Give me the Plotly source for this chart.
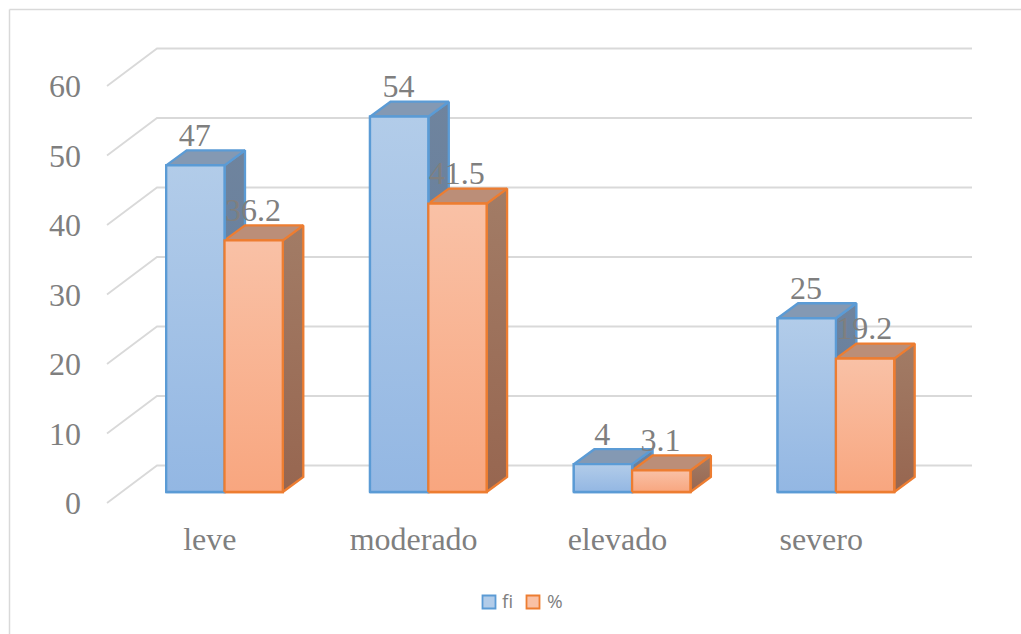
import plotly.graph_objects as go

categories = ["leve", "moderado", "elevado", "severo"]
fi_values = [47, 54, 4, 25]
pct_values = [36.2, 41.5, 3.1, 19.2]
y_ticks = [0, 10, 20, 30, 40, 50, 60]

W, H = 1021, 634
ML, MR, MT, MB = 82, 0, 20, 117
PX_PER_CAT = 203.8
PX_PER_VAL = 6.95
X0_PX = 224.5      # pixel of category 0 centre
Y0_PX = 503.0      # pixel of value 0 on the front plane of the axis

xr = [(ML - X0_PX) / PX_PER_CAT, (W - MR - X0_PX) / PX_PER_CAT]
yr = [(Y0_PX - (H - MB)) / PX_PER_VAL, (Y0_PX - MT) / PX_PER_VAL]

def dx(px): return px / PX_PER_CAT
def dy(px): return px / PX_PER_VAL

BAR_W = dx(58.3)
FRONT_DX, FRONT_DY = dx(14.7), dy(11)      # bar fronts relative to axis front
DEPTH_DX, DEPTH_DY = dx(20.5), dy(15)      # bar depth
WALL_DX, WALL_DY = dx(50), dy(37.5)        # back wall relative to axis front
TEXT = "#7f7f7f"
SERIF = "Liberation Serif"
FS = 32
EDGE = 2.3

series = [
    dict(name="fi", values=fi_values, line="#5b9bd5",
         front=("#b2cce9", "#93b7e3"), side=("#6f849e", "#5f7a9c"), top="#8499b3",
         off=-BAR_W),
    dict(name="%", values=pct_values, line="#ed7d31",
         front=("#f9c1a6", "#f8a67f"), side=("#a27c66", "#976650"), top="#bb8e78",
         off=0),
]

fig = go.Figure()

# gridlines on the floor + back wall (base subplot)
grid_x_front = (107 - X0_PX) / PX_PER_CAT
grid_x_back = (157 - X0_PX) / PX_PER_CAT
grid_x_end = (972 - X0_PX) / PX_PER_CAT
for v in y_ticks:
    fig.add_trace(go.Scatter(
        x=[grid_x_front, grid_x_back, grid_x_end],
        y=[v, v + WALL_DY, v + WALL_DY],
        mode="lines", line=dict(color="#d9d9d9", width=1.8),
        hoverinfo="skip", showlegend=False, xaxis="x", yaxis="y"))

# side and top faces (base subplot, below the fronts)
for s in series:
    for i, val in enumerate(s["values"]):
        left = i + s["off"]
        right = left + BAR_W
        bottom = FRONT_DY
        top = bottom + val
        fig.add_trace(go.Scatter(
            x=[right, right + DEPTH_DX, right + DEPTH_DX, right, right],
            y=[bottom, bottom + DEPTH_DY, top + DEPTH_DY, top, bottom],
            mode="lines", fill="toself",
            fillgradient=dict(type="vertical",
                              colorscale=[[0, s["side"][1]], [1, s["side"][0]]]),
            line=dict(color=s["line"], width=EDGE),
            hoverinfo="skip", showlegend=False, xaxis="x", yaxis="y"))
        fig.add_trace(go.Scatter(
            x=[left, left + DEPTH_DX, right + DEPTH_DX, right, left],
            y=[top, top + DEPTH_DY, top + DEPTH_DY, top, top],
            mode="lines", fill="toself", fillcolor=s["top"],
            line=dict(color=s["line"], width=EDGE),
            hoverinfo="skip", showlegend=False, xaxis="x", yaxis="y"))

# front faces (overlay subplot)
for s in series:
    fig.add_trace(go.Bar(
        x=list(range(len(categories))), y=s["values"], base=FRONT_DY,
        width=BAR_W, offset=s["off"], name=s["name"],
        marker=dict(color=s["front"][1], line=dict(color=s["line"], width=EDGE)),
        showlegend=False, xaxis="x2", yaxis="y2"))
for s in series:
    for i, val in enumerate(s["values"]):
        left = i + s["off"]
        right = left + BAR_W
        bottom = FRONT_DY
        top = bottom + val
        fig.add_trace(go.Scatter(
            x=[left, left, right, right, left],
            y=[bottom, top, top, bottom, bottom],
            mode="lines", fill="toself",
            fillgradient=dict(type="vertical",
                              colorscale=[[0, s["front"][1]], [1, s["front"][0]]]),
            line=dict(color=s["line"], width=EDGE),
            hoverinfo="skip", showlegend=False, xaxis="x2", yaxis="y2"))

# data labels on top of everything
for s in series:
    fig.add_trace(go.Scatter(
        x=[i + s["off"] + BAR_W / 2 - dx(0.7) for i in range(len(categories))],
        y=[v + FRONT_DY + dy(27.5) for v in s["values"]],
        text=[str(v) for v in s["values"]],
        mode="text", textposition="middle center",
        textfont=dict(family=SERIF, size=FS, color=TEXT),
        hoverinfo="skip", showlegend=False, xaxis="x2", yaxis="y2"))

plot_w = W - ML - MR
plot_h = H - MT - MB
def px_x(p): return (p - ML) / plot_w
def px_y(p): return (H - MB - p) / plot_h

shapes = [
    dict(type="line", xref="paper", yref="paper",
         x0=px_x(9.5), x1=px_x(9.5), y0=px_y(9.5), y1=px_y(H),
         line=dict(color="#d9d9d9", width=1.5)),
    dict(type="line", xref="paper", yref="paper",
         x0=px_x(9.5), x1=px_x(W), y0=px_y(9.5), y1=px_y(9.5),
         line=dict(color="#d9d9d9", width=1.5)),
]
annotations = []
for s, sw_left, txt_left in zip(series, (482.5, 526.5), (499.5, 544.5)):
    shapes.append(dict(type="rect", xref="paper", yref="paper",
                       x0=px_x(sw_left), x1=px_x(sw_left + 13),
                       y0=px_y(608.5), y1=px_y(595.5),
                       fillcolor=s["front"][0], line=dict(color=s["line"], width=1.8)))
    annotations.append(dict(xref="paper", yref="paper", x=px_x(txt_left), y=px_y(601),
                            xanchor="left", yanchor="middle", text=s["name"], showarrow=False,
                            font=dict(family="Open Sans", size=19, color=TEXT)))

fig.update_layout(
    width=W, height=H, autosize=False,
    margin=dict(l=ML, r=MR, t=MT, b=MB, pad=0),
    paper_bgcolor="white", plot_bgcolor="rgba(0,0,0,0)",
    barmode="overlay", showlegend=False,
    shapes=shapes, annotations=annotations,
    xaxis=dict(range=xr, tickmode="array",
               tickvals=[i - FRONT_DX for i in range(len(categories))],
               ticktext=categories, showgrid=False, zeroline=False, showline=False,
               ticks="", ticklabelstandoff=0,
               tickfont=dict(family=SERIF, size=FS, color=TEXT), fixedrange=True),
    yaxis=dict(range=yr, tickmode="array", tickvals=y_ticks,
               showgrid=False, zeroline=False, showline=False, ticks="",
               tickfont=dict(family=SERIF, size=FS, color=TEXT), fixedrange=True),
    xaxis2=dict(range=xr, overlaying="x", visible=False, fixedrange=True),
    yaxis2=dict(range=yr, overlaying="y", visible=False, fixedrange=True),
)

fig.write_html("out.html", config=dict(displayModeBar=False),
               post_script="document.body.style.margin='0';document.documentElement.style.margin='0';")
